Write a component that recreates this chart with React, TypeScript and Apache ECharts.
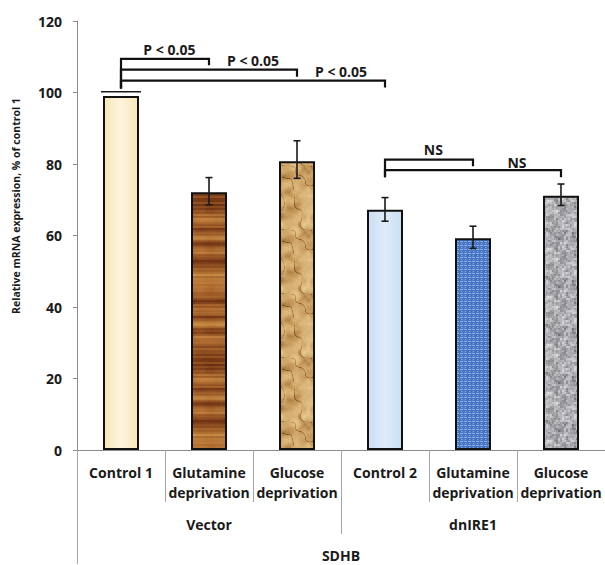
import React, { useEffect, useRef } from "react";
import * as echarts from "echarts";

const categories = [
  "Control 1",
  "Glutamine\ndeprivation",
  "Glucose\ndeprivation",
  "Control 2",
  "Glutamine\ndeprivation",
  "Glucose\ndeprivation",
];
const groups = ["Vector", "dnIRE1"];
const gene = ["SDHB"];
const values = [99.0, 72.1, 80.8, 67.2, 59.2, 71.1];
const errUp = [1.2, 4.1, 5.7, 3.4, 3.4, 3.3];
const errDown = [0, 3.5, 4.8, 3.2, 2.8, 2.7];
const yTicks = [0, 120, 20];

// significance brackets: from bar, to bar, top, left leg end, right leg end
const brFrom = [0, 0, 0, 3, 3];
const brTo = [1, 2, 3, 4, 5];
const brTop = [109.4, 106.4, 103.3, 81.2, 78.3];
const brLeftEnd = [101.1, 101.1, 101.1, 76.3, 76.3];
const brRightEnd = [107.6, 104.4, 101.4, 79.4, 76.3];
const brLabels = ["P < 0.05", "P < 0.05", "P < 0.05", "NS", "NS"];
const brLabelX = [0.55, 1.5, 2.5, 3.55, 4.5];
const brLabelY = [112.0, 108.9, 105.8, 84.0, 80.5];

const FONT = "'Open Sans', Lato, sans-serif";
const CAP_W = [40, 7, 7, 7, 7, 7];
const TAU = Math.PI * 2;

function hash(x: number, y: number, s: number) {
  const v = Math.sin(x * 127.1 + y * 311.7 + s * 74.7) * 43758.5453;
  return v - Math.floor(v);
}
function mix(a: number[], b: number[], t: number) {
  t = Math.max(0, Math.min(1, t));
  return a.map((v, i) => Math.round(v + (b[i] - v) * t));
}
// periodic value noise on a grid of `cells` cells over a tile of `size` px
function vnoise(x: number, y: number, size: number, cells: number, seed: number) {
  const cs = size / cells;
  const gx = x / cs;
  const gy = y / cs;
  const x0 = Math.floor(gx);
  const y0 = Math.floor(gy);
  const fx = gx - x0;
  const fy = gy - y0;
  const sx = fx * fx * (3 - 2 * fx);
  const sy = fy * fy * (3 - 2 * fy);
  const h = (i: number, j: number) => hash(((i % cells) + cells) % cells, ((j % cells) + cells) % cells, seed);
  const a = h(x0, y0);
  const b = h(x0 + 1, y0);
  const c = h(x0, y0 + 1);
  const d = h(x0 + 1, y0 + 1);
  return a + (b - a) * sx + (c - a) * sy + (a - b - c + d) * sx * sy;
}
function makeCanvas(w: number, h: number, fn: (x: number, y: number) => number[]) {
  const c = document.createElement("canvas");
  c.width = w;
  c.height = h;
  const ctx = c.getContext("2d")!;
  const img = ctx.createImageData(w, h);
  for (let y = 0; y < h; y++) {
    for (let x = 0; x < w; x++) {
      const col = fn(x, y);
      const i = (y * w + x) * 4;
      img.data[i] = col[0];
      img.data[i + 1] = col[1];
      img.data[i + 2] = col[2];
      img.data[i + 3] = 255;
    }
  }
  ctx.putImageData(img, 0, 0);
  return c;
}

function textures() {
  const WH = 160;
  const wood = makeCanvas(40, WH, (x, y) => {
    const r = hash(0, Math.floor(y / 2), 1);
    const band =
      0.5 + 0.5 * Math.sin((TAU * 7 * y) / WH + 2.5 * Math.sin((TAU * 2 * y) / WH));
    const t =
      band * 0.55 + r * 0.35 + vnoise(x, y, 40, 4, 9) * 0.15 + (hash(x, y, 2) - 0.5) * 0.06;
    const dark = [96, 38, 12];
    const mid = [158, 92, 40];
    const light = [206, 146, 72];
    return t < 0.5 ? mix(dark, mid, t * 2) : mix(mid, light, (t - 0.5) * 2);
  });
  const P = 64;
  const paper = makeCanvas(P, P, (x, y) => {
    const n1 = vnoise(x, y, P, 8, 11);
    const n2 = vnoise(x, y, P, 16, 12);
    const n = n1 * 0.7 + n2 * 0.3;
    const crease = Math.abs(vnoise(x, y, P, 6, 13) - 0.5);
    let t = 0.25 + n * 0.75 + (hash(x, y, 3) - 0.5) * 0.08;
    if (crease < 0.04) t -= 0.45 * (1 - crease / 0.04);
    const dark = [110, 68, 28];
    const mid = [196, 150, 88];
    const light = [236, 208, 152];
    return t < 0.5 ? mix(dark, mid, t / 0.5) : mix(mid, light, (t - 0.5) / 0.5);
  });
  const weave = makeCanvas(8, 8, (x, y) => {
    const base = [56, 104, 190];
    const lite = [168, 198, 240];
    const line = y % 4 === 1 && x % 4 !== 3;
    const vline = x % 4 === 1 && y % 4 === 3;
    const t = line || vline ? 0.75 : hash(x, y, 4) * 0.25;
    return mix(base, lite, t);
  });
  const granite = makeCanvas(48, 48, (x, y) => {
    const bx = Math.floor(x / 2);
    const by = Math.floor(y / 2);
    const t =
      (hash(bx, by, 5) * 0.6 + hash(bx + 1, by, 5) * 0.2 + hash(bx, by + 1, 5) * 0.2) *
        0.85 +
      hash(x, y, 6) * 0.15;
    const dark = [96, 96, 102];
    const light = [232, 232, 235];
    return mix(dark, light, Math.pow(t, 0.8));
  });
  return { wood, paper, weave, granite };
}

export default function App() {
  const ref = useRef<HTMLDivElement>(null);
  useEffect(() => {
    if (!ref.current) return;
    const chart = echarts.init(ref.current, undefined, { renderer: "svg" });
    const tx = textures();
    const fills: any[] = [
      new echarts.graphic.LinearGradient(0, 0, 1, 0, [
        { offset: 0, color: "#f7e6b8" },
        { offset: 0.5, color: "#fdf5dc" },
        { offset: 1, color: "#f7e6b8" },
      ]),
      { image: tx.wood, repeat: "repeat" },
      { image: tx.paper, repeat: "repeat" },
      new echarts.graphic.LinearGradient(0, 0, 1, 0, [
        { offset: 0, color: "#cadff4" },
        { offset: 0.5, color: "#deebf9" },
        { offset: 1, color: "#cadff4" },
      ]),
      { image: tx.weave, repeat: "repeat" },
      { image: tx.granite, repeat: "repeat" },
    ];

    const labelStyle = {
      fontFamily: FONT,
      fontWeight: "bold" as const,
      fontSize: 14,
      color: "#1a1a1a",
    };

    const option: any = {
      animation: false,
      backgroundColor: "#ffffff",
      grid: { left: 77, top: 21, width: 534, height: 432, containLabel: false },
      xAxis: [
        {
          type: "category",
          data: categories,
          position: "bottom",
          axisLine: { show: true, onZero: false, lineStyle: { color: "#8c8c8c", width: 1 } },
          axisTick: {
            show: true,
            alignWithLabel: false,
            length: 52,
            lineStyle: { color: "#a6a6a6", width: 1 },
          },
          axisLabel: { ...labelStyle, interval: 0, margin: 12, lineHeight: 20 },
        },
        {
          type: "category",
          data: groups,
          position: "bottom",
          offset: 52,
          axisLine: { show: false, onZero: false },
          axisTick: {
            show: true,
            alignWithLabel: false,
            length: 32,
            lineStyle: { color: "#a6a6a6", width: 1 },
          },
          axisLabel: { ...labelStyle, interval: 0, margin: 12, lineHeight: 20 },
        },
        {
          type: "category",
          data: gene,
          position: "bottom",
          offset: 84,
          axisLine: { show: false, onZero: false },
          axisTick: {
            show: true,
            alignWithLabel: false,
            length: 30,
            lineStyle: { color: "#a6a6a6", width: 1 },
          },
          axisLabel: { ...labelStyle, interval: 0, margin: 11, lineHeight: 20 },
        },
        {
          type: "value",
          min: -0.5,
          max: 5.5,
          show: false,
          axisLine: { show: false, onZero: false },
        },
      ],
      yAxis: {
        type: "value",
        min: yTicks[0],
        max: yTicks[1],
        interval: yTicks[2],
        axisLine: { show: true, onZero: false, lineStyle: { color: "#8c8c8c", width: 1 } },
        axisTick: { show: true, length: 4, lineStyle: { color: "#8c8c8c" } },
        splitLine: { show: false },
        axisLabel: { ...labelStyle, margin: 15 },
      },
      graphic: [
        {
          type: "text",
          x: 16,
          y: 206,
          rotation: Math.PI / 2,
          style: {
            text: "Relative mRNA expression, % of control 1",
            fontFamily: FONT,
            fontWeight: "bold",
            fontSize: 10.5,
            fill: "#1a1a1a",
            align: "center",
            verticalAlign: "middle",
          },
        },
      ],
      series: [
        {
          type: "bar",
          xAxisIndex: 0,
          yAxisIndex: 0,
          barWidth: 36,
          data: values.map((v, i) => ({
            value: v,
            itemStyle: { color: fills[i], borderColor: "#111", borderWidth: 2 },
          })),
          z: 2,
        },
        {
          type: "custom",
          xAxisIndex: 3,
          yAxisIndex: 0,
          z: 5,
          clip: false,
          encode: { x: 0, y: [1, 2] },
          data: values.map((v, i) => [i, v + errUp[i], v - errDown[i]]),
          renderItem: (params: any, api: any) => {
            const i = params.dataIndex;
            const hi = values[i] + errUp[i];
            const lo = values[i] - errDown[i];
            const top = api.coord([i, hi]);
            const bot = api.coord([i, lo]);
            const cw = CAP_W[i] / 2;
            const st = { stroke: "#1a1a1a", lineWidth: 1.6 };
            const children: any[] = [];
            if (errDown[i] > 0) {
              children.push({
                type: "line",
                shape: { x1: top[0], y1: top[1], x2: bot[0], y2: bot[1] },
                style: st,
              });
              children.push({
                type: "line",
                shape: { x1: bot[0] - cw, y1: bot[1], x2: bot[0] + cw, y2: bot[1] },
                style: st,
              });
            }
            children.push({
              type: "line",
              shape: { x1: top[0] - cw, y1: top[1], x2: top[0] + cw, y2: top[1] },
              style: st,
            });
            return { type: "group", children };
          },
        },
        {
          type: "custom",
          xAxisIndex: 3,
          yAxisIndex: 0,
          z: 5,
          encode: { x: [0, 1], y: [2, 3, 4] },
          data: brFrom.map((f, i) => [f, brTo[i], brTop[i], brLeftEnd[i], brRightEnd[i]]),
          renderItem: (params: any, api: any) => {
            const i = params.dataIndex;
            const p1 = api.coord([brFrom[i], brLeftEnd[i]]);
            const p2 = api.coord([brFrom[i], brTop[i]]);
            const p3 = api.coord([brTo[i], brTop[i]]);
            const p4 = api.coord([brTo[i], brRightEnd[i]]);
            return {
              type: "polyline",
              shape: { points: [p1, p2, p3, p4] },
              style: { stroke: "#111", lineWidth: 2.2, fill: null },
            };
          },
        },
        {
          type: "custom",
          xAxisIndex: 3,
          yAxisIndex: 0,
          z: 6,
          encode: { x: 0, y: 1 },
          data: brLabelX.map((x, i) => [x, brLabelY[i]]),
          renderItem: (params: any, api: any) => {
            const i = params.dataIndex;
            const p = api.coord([brLabelX[i], brLabelY[i]]);
            return {
              type: "text",
              x: p[0],
              y: p[1],
              style: {
                text: brLabels[i],
                fontFamily: FONT,
                fontWeight: "bold",
                fontSize: 14,
                fill: "#1a1a1a",
                align: "center",
                verticalAlign: "middle",
              },
            };
          },
        },
      ],
    };
    chart.setOption(option);
    return () => chart.dispose();
  }, []);
  return (
    <div
      ref={ref}
      style={{ position: "fixed", left: 0, top: 0, width: 605, height: 565, background: "#fff" }}
    />
  );
}
